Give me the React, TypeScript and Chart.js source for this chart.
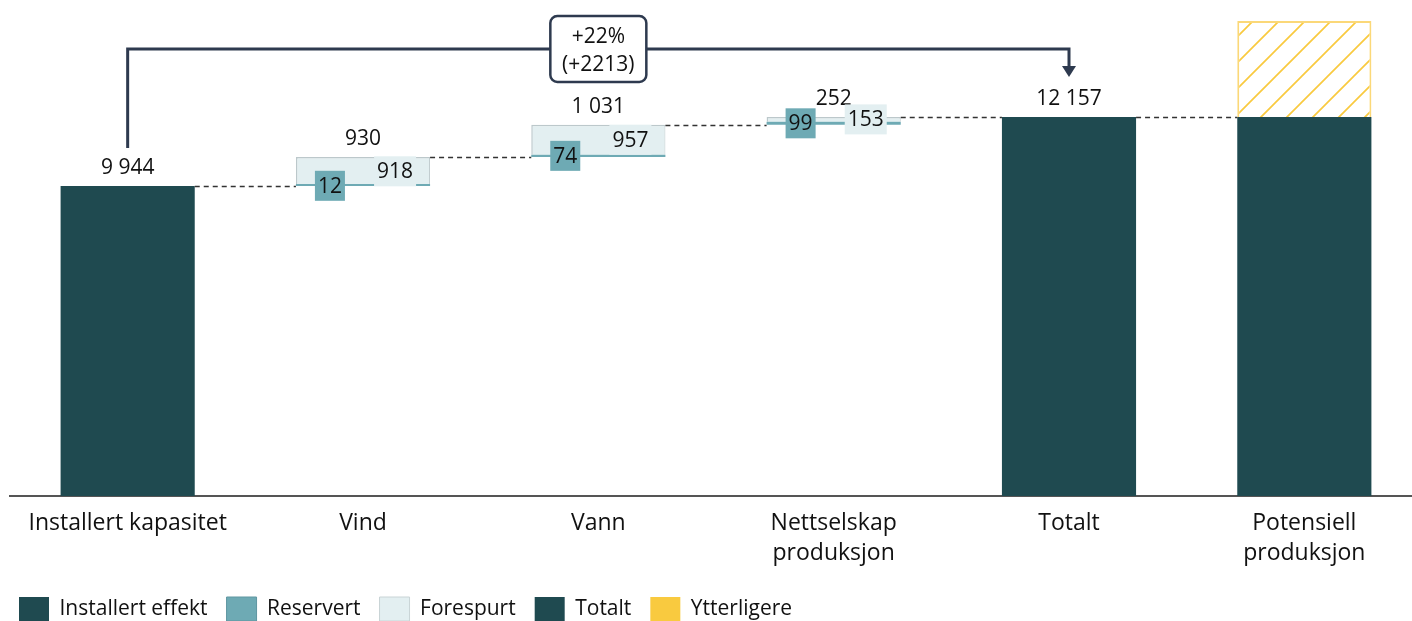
import React, { useEffect, useRef } from "react";
import { Chart, registerables } from "chart.js";

Chart.register(...registerables);

// ---------- data ----------
const categories: string[][] = [
  ["Installert kapasitet"],
  ["Vind"],
  ["Vann"],
  ["Nettselskap", "produksjon"],
  ["Totalt"],
  ["Potensiell", "produksjon"],
];
const installertEffekt = 9944;
const reservert = [12, 74, 99]; // Vind, Vann, Nettselskap produksjon
const forespurt = [918, 957, 153];
const ytterligere = 3080; // estimated from hatched bar height
const legendNames = ["Installert effekt", "Reservert", "Forespurt", "Totalt", "Ytterligere"];

// ---------- styles ----------
const DARK = "#1f4a50";
const TEAL = "#6eaab4";
const LIGHT = "#e3eff1";
const LIGHT_BORDER = "#bcc8cb";
const YELLOW = "#f9ca3f";
const LINE = "#2e3a4f";
const FONT = "'Open Sans'";
const FS = 21;
const TICK_FS = 23;

const fmt = (n: number) => String(n).replace(/\B(?=(\d{3})+(?!\d))/g, " ");

// derived series
const n = categories.length;
const instData: any[] = Array(n).fill(null);
const resData: any[] = Array(n).fill(null);
const foreData: any[] = Array(n).fill(null);
const totData: any[] = Array(n).fill(null);
const ytData: any[] = Array(n).fill(null);
instData[0] = [0, installertEffekt];
let cum = installertEffekt;
const levels: number[] = [installertEffekt];
for (let i = 0; i < reservert.length; i++) {
  resData[i + 1] = [cum, cum + reservert[i]];
  foreData[i + 1] = [cum + reservert[i], cum + reservert[i] + forespurt[i]];
  cum += reservert[i] + forespurt[i];
  levels.push(cum);
}
const total = cum;
levels.push(total);
totData[4] = [0, total];
totData[5] = [0, total];
ytData[5] = [total, total + ytterligere];

function makePattern(): CanvasPattern | string {
  const c = document.createElement("canvas");
  const s = 26;
  c.width = s;
  c.height = s;
  const g = c.getContext("2d");
  if (!g) return YELLOW;
  g.fillStyle = "#ffffff";
  g.fillRect(0, 0, s, s);
  g.strokeStyle = YELLOW;
  g.lineWidth = 1.7;
  g.beginPath();
  g.moveTo(-4, s + 4);
  g.lineTo(s + 4, -4);
  g.moveTo(-4, 4);
  g.lineTo(4, -4);
  g.moveTo(s - 4, s + 4);
  g.lineTo(s + 4, s - 4);
  g.stroke();
  const p = g.createPattern(c, "repeat");
  return p || YELLOW;
}

const overlayPlugin = {
  id: "overlay",
  afterDatasetsDraw(chart: any) {
    const ctx = chart.ctx as CanvasRenderingContext2D;
    const ys = chart.scales.y;
    const xs = chart.scales.x;
    const half = chart.getDatasetMeta(0).data[0].width / 2;
    const cx = (i: number) => xs.getPixelForValue(i);
    ctx.save();

    // dashed connectors
    ctx.strokeStyle = "#333333";
    ctx.lineWidth = 1.3;
    ctx.setLineDash([5, 4]);
    for (let i = 0; i < n - 1; i++) {
      const y = Math.round(ys.getPixelForValue(levels[i])) + 0.5;
      ctx.beginPath();
      ctx.moveTo(cx(i) + half, y);
      ctx.lineTo(cx(i + 1) - half, y);
      ctx.stroke();
    }
    ctx.setLineDash([]);

    ctx.font = `${FS}px ${FONT}`;
    ctx.fillStyle = "#111111";
    ctx.textAlign = "center";
    ctx.textBaseline = "middle";

    // top labels
    const topVals = [installertEffekt, ...reservert.map((r, i) => r + forespurt[i]), total];
    for (let i = 0; i < 5; i++) {
      const y = ys.getPixelForValue(levels[i]) - 18;
      ctx.fillStyle = "#111111";
      ctx.fillText(fmt(topVals[i]), cx(i), y);
    }

    // inner labels
    const drawBox = (text: string, x: number, y: number, bg: string) => {
      const tw = ctx.measureText(text).width;
      const w = tw + 6;
      const h = 30;
      ctx.fillStyle = bg;
      ctx.fillRect(x - w / 2, y - h / 2, w, h);
      ctx.fillStyle = "#111111";
      ctx.fillText(text, x, y + 1);
    };
    for (let i = 0; i < reservert.length; i++) {
      const c = i + 1;
      const r = resData[c];
      const f = foreData[c];
      const yf = ys.getPixelForValue((f[0] + f[1]) / 2);
      const yr = ys.getPixelForValue((r[0] + r[1]) / 2);
      drawBox(fmt(forespurt[i]), cx(c) + half - 35, yf, LIGHT);
      drawBox(fmt(reservert[i]), cx(c) - half + 34, yr, TEAL);
    }

    // bracket annotation
    const x0 = cx(0);
    const x1 = cx(4);
    const yLine = ys.top + 49;
    const yStart = ys.getPixelForValue(installertEffekt) - 38;
    const tip = ys.getPixelForValue(total) - 40;
    ctx.strokeStyle = LINE;
    ctx.fillStyle = LINE;
    ctx.lineWidth = 3;
    ctx.lineJoin = "miter";
    ctx.beginPath();
    ctx.moveTo(x0, yStart);
    ctx.lineTo(x0, yLine);
    ctx.lineTo(x1, yLine);
    ctx.lineTo(x1, tip - 10);
    ctx.stroke();
    ctx.beginPath();
    ctx.moveTo(x1 - 7, tip - 11);
    ctx.lineTo(x1 + 7, tip - 11);
    ctx.lineTo(x1, tip);
    ctx.closePath();
    ctx.fill();

    const bx = (x0 + x1) / 2;
    const bw = 96;
    const bh = 66;
    ctx.beginPath();
    (ctx as any).roundRect(bx - bw / 2, yLine - bh / 2, bw, bh, 7);
    ctx.fillStyle = "#ffffff";
    ctx.fill();
    ctx.lineWidth = 2.5;
    ctx.strokeStyle = LINE;
    ctx.stroke();
    const diff = total - installertEffekt;
    const pct = Math.round((diff / installertEffekt) * 100);
    ctx.fillStyle = "#111111";
    ctx.fillText(`+${pct}%`, bx, yLine - 12);
    ctx.fillText(`(+${diff})`, bx, yLine + 16);

    ctx.restore();
  },
};

export default function App() {
  const ref = useRef<HTMLCanvasElement | null>(null);
  useEffect(() => {
    document.body.style.margin = "0";
    document.body.style.overflow = "hidden";
    if (!ref.current) return;
    const pattern = makePattern();
    const legendStyles = [
      { fill: DARK, stroke: DARK, lw: 0 },
      { fill: TEAL, stroke: "#5f97a1", lw: 1 },
      { fill: LIGHT, stroke: "#c9d4d6", lw: 1 },
      { fill: DARK, stroke: DARK, lw: 0 },
      { fill: YELLOW, stroke: YELLOW, lw: 0 },
    ];
    const common = { grouped: false, barPercentage: 0.57, categoryPercentage: 1 };
    const chart = new Chart(ref.current, {
      type: "bar",
      data: {
        labels: categories,
        datasets: [
          { label: legendNames[0], data: instData, backgroundColor: DARK, order: 3, ...common },
          { label: legendNames[1], data: resData, backgroundColor: TEAL, minBarLength: 2, order: 1, ...common },
          {
            label: legendNames[2],
            data: foreData,
            backgroundColor: LIGHT,
            borderColor: LIGHT_BORDER,
            borderWidth: { top: 1.5, left: 1.5, right: 1, bottom: 0 },
            borderSkipped: false,
            order: 2,
            ...common,
          },
          { label: legendNames[3], data: totData, backgroundColor: DARK, order: 3, ...common },
          {
            label: legendNames[4],
            data: ytData,
            backgroundColor: pattern as any,
            borderColor: "#fbd878",
            borderWidth: 2,
            order: 3,
            ...common,
          },
        ] as any,
      },
      options: {
        animation: false,
        responsive: true,
        maintainAspectRatio: false,
        layout: { padding: { left: 0, right: 0, top: 0, bottom: 0 } },
        plugins: {
          tooltip: { enabled: false },
          legend: {
            display: true,
            position: "bottom",
            align: "start",
            onClick: () => {},
            labels: {
              boxWidth: 30,
              boxHeight: 24,
              padding: 19,
              color: "#111111",
              font: { family: FONT, size: FS },
              generateLabels: () =>
                legendNames.map((t, i) => ({
                  text: t,
                  fillStyle: legendStyles[i].fill,
                  strokeStyle: legendStyles[i].stroke,
                  lineWidth: legendStyles[i].lw,
                  hidden: false,
                  datasetIndex: i,
                  fontColor: "#111111",
                })),
            },
          },
        },
        scales: {
          x: {
            grid: { display: false, drawTicks: false },
            border: { display: true, color: "#555555", width: 2 },
            ticks: {
              color: "#111111",
              font: { family: FONT, size: TICK_FS, lineHeight: 1.3 },
              padding: 13,
              maxRotation: 0,
              autoSkip: false,
            },
            afterFit: (scale: any) => {
              const ch = scale.chart;
              const lh = ch.legend ? ch.legend.height : 0;
              scale.height = ch.height - 496 - lh;
            },
          },
          y: {
            display: true,
            min: 0,
            max: 15910,
            grid: { display: false, drawTicks: false },
            border: { display: false },
            ticks: { display: false },
            afterFit: (scale: any) => {
              scale.width = 10;
            },
          },
        },
      },
      plugins: [overlayPlugin],
    } as any);
    return () => chart.destroy();
  }, []);
  return (
    <div style={{ position: "relative", width: "1422px", height: "631px" }}>
      <canvas ref={ref} />
    </div>
  );
}
